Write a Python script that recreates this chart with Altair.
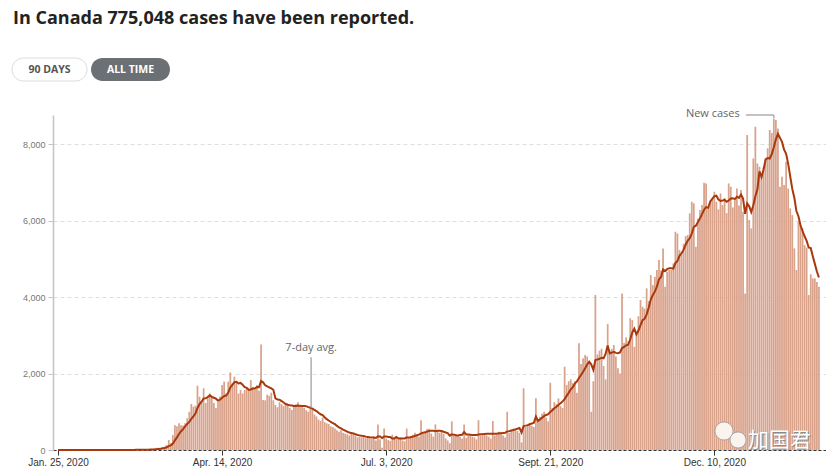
import altair as alt
import pandas as pd

# ---- data (daily new cases, Canada, from Jan. 25, 2020) ----
start_date = "2020-01-25"
cases = [
    1, 0, 1, 0, 0, 0, 1,
    0, 0, 0, 0, 0, 0, 0,
    0, 0, 0, 0, 0, 0, 0,
    0, 0, 0, 0, 0, 0, 1,
    0, 1, 0, 2, 1, 3, 2,
    4, 3, 6, 8, 5, 10, 12,
    9, 8, 15, 14, 18, 35, 55,
    60, 45, 75, 90, 130, 260, 180,
    390, 650, 620, 700, 650, 640, 700,
    830, 1000, 1204, 1134, 1160, 1683, 1396,
    1265, 1614, 1230, 1352, 1483, 1396, 1230,
    1100, 1270, 1400, 1700, 1790, 1480, 1790,
    2030, 1740, 1920, 1760, 1480, 1570, 1480,
    1570, 1610, 1560, 1830, 1650, 1600, 1700,
    1550, 2760, 1310, 1300, 1450, 1420, 1500,
    1300, 1180, 1120, 1250, 1200, 1150, 1230,
    1160, 1100, 1050, 1180, 1200, 1250, 1150,
    1120, 1100, 1040, 1000, 1120, 1060, 930,
    880, 800, 760, 850, 730, 700, 680,
    620, 600, 560, 520, 480, 520, 450,
    430, 410, 380, 440, 400, 370, 330,
    350, 330, 360, 310, 340, 300, 290,
    350, 250, 670, 280, 60, 560, 300,
    260, 240, 400, 300, 320, 280, 330,
    250, 230, 560, 310, 370, 400, 450,
    380, 350, 780, 420, 460, 550, 560,
    430, 350, 670, 500, 450, 520, 420,
    300, 250, 180, 750, 400, 420, 380,
    350, 300, 670, 320, 380, 400, 350,
    330, 280, 780, 380, 390, 420, 380,
    350, 300, 760, 380, 400, 480, 420,
    380, 330, 1000, 450, 520, 560, 540,
    500, 450, 200, 1614, 600, 650, 700,
    630, 600, 1352, 800, 870, 950, 1000,
    850, 750, 1762, 1100, 1250, 1200, 1350,
    1150, 1100, 2180, 1700, 1800, 1850, 1750,
    1800, 1500, 2792, 2250, 2400, 2486, 2450,
    2300, 1000, 1800, 4057, 2500, 2600, 2650,
    2200, 1850, 3297, 2600, 2650, 2750, 2450,
    2137, 2000, 4100, 2800, 2950, 2850, 3450,
    3400, 2700, 3050, 3500, 3926, 3750, 3700,
    4231, 3900, 4580, 4318, 4536, 4711, 4973,
    4700, 5278, 4275, 4667, 4711, 4711, 4885,
    5714, 5671, 5234, 5104, 5400, 5600, 5627,
    6194, 6499, 6458, 5322, 6063, 6281, 6412,
    6997, 6979, 6325, 6500, 6543, 6761, 6500,
    6300, 6717, 6412, 6600, 6200, 6979, 6892,
    6350, 6543, 6848, 6400, 6805, 6238, 4100,
    8244, 6020, 5801, 7633, 8462, 7503, 7415,
    7197, 7400, 7633, 7900, 8375, 8300, 8680,
    8637, 8419, 6892, 7154, 6936, 7546, 6848,
    6325, 6150, 5278, 4711, 5976, 5889, 5801,
    5365, 5300, 4057, 4600, 4493, 4493, 4400,
    4275,
]
tick_days = [0, 80, 160, 240, 320]
tick_labels = ["Jan. 25, 2020", "Apr. 14, 2020", "Jul. 3, 2020", "Sept. 21, 2020", "Dec. 10, 2020"]
y_ticks = [0, 2000, 4000, 6000, 8000]

title_text = "In Canada 775,048 cases have been reported."
btn_labels = ["90 DAYS", "ALL TIME"]

BAR = "#d9a28b"
LINE = "#a8390c"

df = pd.DataFrame({
    "day": list(range(len(cases))),
    "date": pd.date_range(start_date, periods=len(cases), freq="D").strftime("%Y-%m-%d"),
    "cases": cases,
})

label_expr = ""
for d, lab in zip(tick_days, tick_labels):
    label_expr += f"datum.value == {d} ? '{lab}' : "
label_expr += "''"

x_scale = alt.Scale(domain=[0, 372], nice=False, zero=False)
y_scale = alt.Scale(domain=[0, 8770], nice=False)

x_axis = alt.Axis(values=tick_days, labelExpr=label_expr, title=None, grid=False,
                  domainColor="#333333", domainDash=[3, 2], domainWidth=1,
                  tickColor="#333333", tickSize=5, labelColor="#333333",
                  labelFont="Liberation Sans", labelFontSize=10, labelPadding=2)
y_axis = alt.Axis(values=y_ticks, labelExpr="format(datum.value, ',')", title=None, grid=True,
                  gridColor="#dedede", gridDash=[4, 3], domainColor="#c4c4c4",
                  domainWidth=1.5, tickColor="#c4c4c4", tickSize=5,
                  labelColor="#777777", labelFont="Liberation Sans",
                  labelFontSize=9, labelPadding=3)

base = alt.Chart(df)

bars = base.mark_bar(size=1.75, color=BAR).encode(
    x=alt.X("day:Q", scale=x_scale, axis=x_axis),
    y=alt.Y("cases:Q", scale=y_scale, axis=y_axis),
)

avg_line = base.transform_window(
    avg="mean(cases)", frame=[-6, 0], sort=[alt.SortField("day", order="ascending")]
).mark_line(color=LINE, strokeWidth=2).encode(
    x=alt.X("day:Q", title=None),
    y=alt.Y("avg:Q", title=None),
)

# ---- annotations ----
ann_text = pd.DataFrame({
    "day": [123.4, 332.4],
    "cases": [2670, 8790],
    "label": ["7-day avg.", "New cases"],
})
ann_avg = alt.Chart(ann_text.iloc[[0]]).mark_text(
    font="Open Sans", fontSize=11, color="#666666", align="center", baseline="middle"
).encode(x=alt.X("day:Q", title=None), y=alt.Y("cases:Q", title=None), text="label:N")
ann_new = alt.Chart(ann_text.iloc[[1]]).mark_text(
    font="Open Sans", fontSize=11, color="#666666", align="right", baseline="middle"
).encode(x=alt.X("day:Q", title=None), y=alt.Y("cases:Q", title=None), text="label:N")

leader = pd.DataFrame({
    "day": [123.4, 335.4, 349.0],
    "day2": [123.4, 349.0, 349.0],
    "cases": [2430, 8770, 8770],
    "cases2": [1100, 8770, 8690],
})
leaders = alt.Chart(leader).mark_rule(color="#9a9a9a", strokeWidth=1.2).encode(
    x=alt.X("day:Q", title=None), x2="day2:Q",
    y=alt.Y("cases:Q", title=None), y2="cases2:Q",
)

# ---- header: title and buttons (placed in the top padding) ----
one = pd.DataFrame({"t": [title_text]})
title = alt.Chart(one).mark_text(
    font="Open Sans", fontSize=18, fontWeight="bold", color="#222222",
    align="left", baseline="alphabetic",
).encode(x=alt.value(-40), y=alt.value(-91), text="t:N")

btn1 = alt.Chart(pd.DataFrame({"t": [btn_labels[0]]})).mark_rect(
    cornerRadius=11.5, fill="#ffffff", stroke="#dddddd", strokeWidth=1
).encode(x=alt.value(-41), x2=alt.value(34), y=alt.value(-57), y2=alt.value(-34))
btn2 = alt.Chart(pd.DataFrame({"t": [btn_labels[1]]})).mark_rect(
    cornerRadius=11.5, fill="#6b7075"
).encode(x=alt.value(38), x2=alt.value(117), y=alt.value(-57), y2=alt.value(-34))
btn1_t = alt.Chart(pd.DataFrame({"t": [btn_labels[0]]})).mark_text(
    font="Open Sans", fontSize=10.5, fontWeight="bold", color="#555555",
    align="center", baseline="middle",
).encode(x=alt.value(-3.5), y=alt.value(-45.5), text="t:N")
btn2_t = alt.Chart(pd.DataFrame({"t": [btn_labels[1]]})).mark_text(
    font="Open Sans", fontSize=10.5, fontWeight="bold", color="#ffffff",
    align="center", baseline="middle",
).encode(x=alt.value(77.5), y=alt.value(-45.5), text="t:N")

# ---- watermark ----
wm = pd.DataFrame({"t": ["加国君"]})
wm_shadow = alt.Chart(wm).mark_text(
    font="Noto Sans CJK SC", fontSize=21, color="#8a8a8a", align="left",
    baseline="alphabetic", dx=1, dy=1,
).encode(x=alt.value(695), y=alt.value(332), text="t:N")
wm_text = alt.Chart(wm).mark_text(
    font="Noto Sans CJK SC", fontSize=21, color="#ffffff", align="left",
    baseline="alphabetic",
).encode(x=alt.value(695), y=alt.value(332), text="t:N")
bubble1 = alt.Chart(pd.DataFrame({"t": [1]})).mark_point(
    shape="circle", filled=True, fill="#fbf3ee", stroke="#9a9a9a", strokeWidth=0.8, size=330, opacity=1
).encode(x=alt.value(671), y=alt.value(316))
bubble2 = alt.Chart(pd.DataFrame({"t": [1]})).mark_point(
    shape="circle", filled=True, fill="#fbf3ee", stroke="#9a9a9a", strokeWidth=0.8, size=260, opacity=1
).encode(x=alt.value(685), y=alt.value(325))

chart = alt.layer(
    bars, avg_line, leaders, ann_avg, ann_new,
    bubble1, bubble2, wm_shadow, wm_text,
    title, btn1, btn2, btn1_t, btn2_t,
).properties(
    width=773, height=335,
    autosize=alt.AutoSizeParams(type="none"),
    padding={"left": 45, "top": 107, "right": 0, "bottom": 20},
    background="#ffffff",
).configure_view(stroke=None)

chart.save("out.html", embed_options={"renderer": "svg", "actions": False})
